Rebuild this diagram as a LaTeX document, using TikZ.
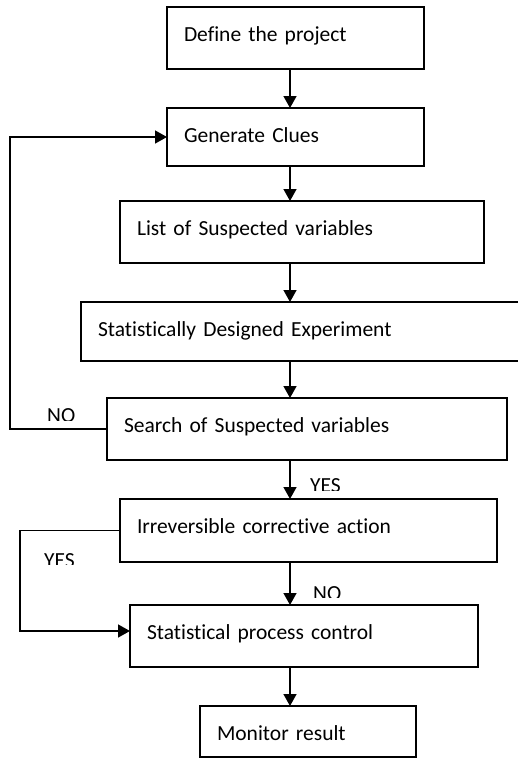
\documentclass[tikz,border=0pt]{standalone}
\usepackage{fontspec}
\setmainfont{Carlito}[Ligatures=NoCommon]
\usetikzlibrary{arrows.meta}

\tikzset{
  box/.style={draw, line width=1.5pt, anchor=north west, outer sep=0pt,
    inner xsep=17pt, inner ysep=0pt, align=left, text height=34pt},
  flow/.style={line width=1.5pt, -{Triangle[width=13pt,length=12pt]}},
  lbl/.style={anchor=base west, inner sep=0pt}
}

\begin{document}
\begin{tikzpicture}[x=1pt, y=-1pt, font=\fontsize{21.5}{26}\selectfont]
    \useasboundingbox (0,0) rectangle (517,758);
    \node [box, text width=223pt, text depth=28pt] (define) at (167,7) {Define the project};
    \node [box, text width=223pt, text depth=24pt] (clues) at (167,108) {Generate Clues};
    \node [box, text width=330pt, text depth=28pt] (list) at (120,201) {List of Suspected variables};
    \node [box, text width=415pt, text depth=25pt] (design) at (81,302) {Statistically Designed Experiment};
    \node [box, text width=366pt, text depth=28pt] (search) at (107,398) {Search of Suspected variables};
    \node [box, text width=343pt, text depth=29pt] (irrev) at (120,499) {Irreversible corrective action};
    \node [box, text width=314pt, text depth=28pt] (spc) at (130,605) {Statistical process control};
    \node [box, text width=182pt, text depth=17pt] (monitor) at (200,706) {Monitor result};
    \coordinate (mid) at (290,0);
    \coordinate (loopa) at (10,0);
    \coordinate (loopb) at (20,0);
    % main line
    \draw [flow] (define.south -| mid) -- (clues.north -| mid);
    \draw [flow] (clues.south -| mid) -- (list.north -| mid);
    \draw [flow] (list.south -| mid) -- (design.north -| mid);
    \draw [flow] (design.south -| mid) -- (search.north -| mid);
    \draw [flow] (search.south -| mid) -- (irrev.north -| mid);
    \draw [flow] (irrev.south -| mid) -- (spc.north -| mid);
    \draw [flow] (spc.south -| mid) -- (monitor.north -| mid);
    % loops
    \draw [flow] (search.west) -- (search.west -| loopa) |- (clues.west);
    \draw [flow] (irrev.west) -- (irrev.west -| loopb) |- ([yshift=5pt]spc.west);
    % labels, cut off at the bottom
    \begin{scope}
      \clip (40,400) rectangle (90,420);
      \node [lbl] (no1) at (47,422) {NO};
    \end{scope}
    \begin{scope}
      \clip (300,470) rectangle (350,490);
      \node [lbl] (yes1) at (310,492) {YES};
    \end{scope}
    \begin{scope}
      \clip (40,545) rectangle (90,564);
      \node [lbl] (yes2) at (44,567) {YES};
    \end{scope}
    \begin{scope}
      \clip (305,578) rectangle (355,597);
      \node [lbl] (no2) at (313,600) {NO};
    \end{scope}
\end{tikzpicture}
\end{document}
